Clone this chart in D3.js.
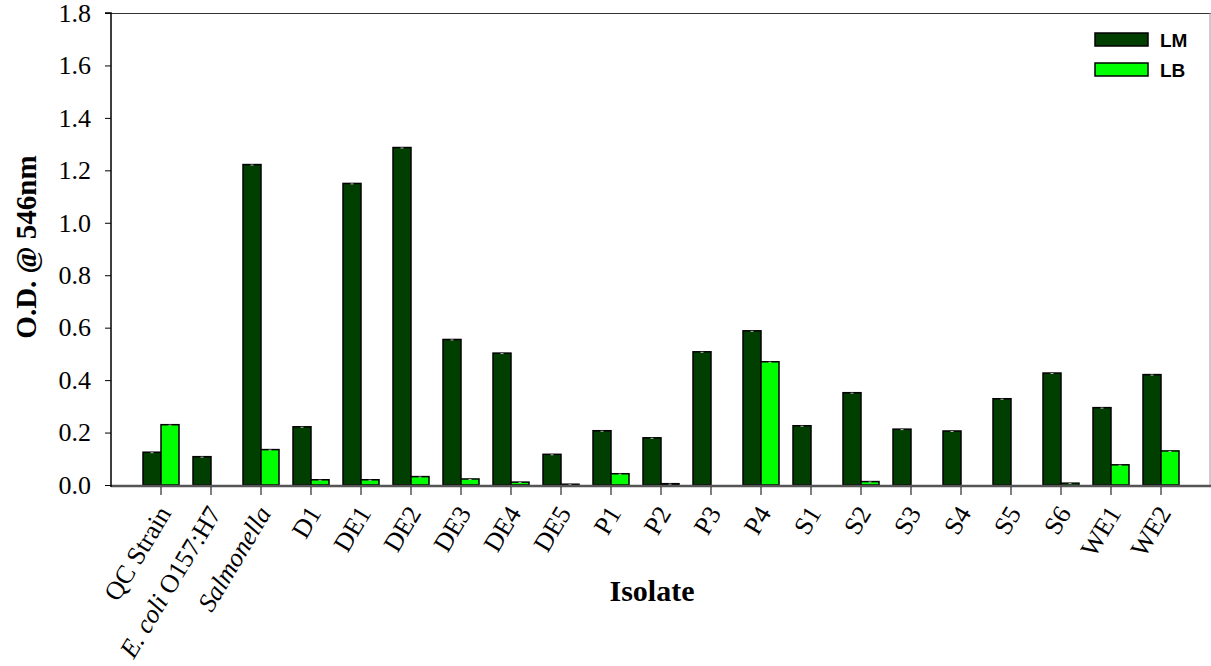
<!DOCTYPE html>
<html>
<head>
<meta charset="utf-8">
<script src="https://cdn.jsdelivr.net/npm/d3@7"></script>
<style>
  html, body { margin: 0; padding: 0; background: #fff; }
  svg { display: block; }
</style>
</head>
<body>
<svg id="chart" width="1211" height="666"></svg>
<script>
// Isolates on the x axis
const isolates = ["QC Strain", "E. coli O157:H7", "Salmonella", "D1", "DE1", "DE2", "DE3", "DE4", "DE5",
  "P1", "P2", "P3", "P4", "S1", "S2", "S3", "S4", "S5", "S6", "WE1", "WE2"];
// Optical density at 546nm in each medium
const lmValues = [0.125, 0.108, 1.222, 0.222, 1.150, 1.287, 0.555, 0.503, 0.117,
  0.207, 0.180, 0.508, 0.588, 0.226, 0.352, 0.213, 0.206, 0.329, 0.427, 0.295, 0.421];
const lbValues = [0.230, 0.000, 0.135, 0.020, 0.020, 0.032, 0.023, 0.011, 0.003,
  0.043, 0.005, 0.000, 0.470, 0.000, 0.013, 0.000, 0.000, 0.000, 0.007, 0.077, 0.130];
const seriesNames = ["LM", "LB"];
const yTicks = [0, 0.2, 0.4, 0.6, 0.8, 1.0, 1.2, 1.4, 1.6, 1.8];

const colors = { LM: "#003f00", LB: "#00ff00" };
const serif = "Liberation Serif, Times New Roman, serif";

const svg = d3.select("#chart");
const plotLeft = 111, plotRight = 1211, plotTop = 13, plotBottom = 485;

const x0 = d3.scaleBand().domain(isolates).range([plotLeft, plotRight]).paddingInner(0).paddingOuter(0.5);
const x1 = d3.scaleBand().domain(seriesNames).range([-18, 18]);
const y = d3.scaleLinear().domain([0, 1.8]).range([plotBottom, plotTop]);

const rows = isolates.map((name, i) => ({ name, LM: lmValues[i], LB: lbValues[i] }));

// frame: top and right edges
svg.append("line").attr("x1", plotLeft).attr("x2", plotRight).attr("y1", plotTop + 0.5).attr("y2", plotTop + 0.5)
  .attr("stroke", "#333").attr("stroke-width", 1);
svg.append("line").attr("x1", plotRight - 1).attr("x2", plotRight - 1).attr("y1", plotTop).attr("y2", plotBottom)
  .attr("stroke", "#999").attr("stroke-width", 1);

// bars
const groups = svg.append("g").selectAll("g").data(rows).join("g")
  .attr("transform", d => `translate(${x0(d.name) + x0.bandwidth() / 2},0)`);

groups.selectAll("rect").data(d => seriesNames.map(k => ({ key: k, value: d[k] })))
  .join("rect")
  .filter(d => d.value > 0)
  .attr("x", d => x1(d.key))
  .attr("y", d => y(d.value))
  .attr("width", x1.bandwidth())
  .attr("height", d => y(0) - y(d.value))
  .attr("fill", d => colors[d.key])
  .attr("stroke", "#000")
  .attr("stroke-width", 1.5);

// small error caps on bar tops
groups.selectAll("line.cap").data(d => seriesNames.map(k => ({ key: k, value: d[k] })))
  .join("line")
  .attr("class", "cap")
  .filter(d => d.value > 0)
  .attr("x1", d => x1(d.key) + x1.bandwidth() / 2 - 1.5)
  .attr("x2", d => x1(d.key) + x1.bandwidth() / 2 + 1.5)
  .attr("y1", d => y(d.value) + 0.5)
  .attr("y2", d => y(d.value) + 0.5)
  .attr("stroke", "#bbb")
  .attr("stroke-width", 1);

// baseline at zero
svg.append("line").attr("x1", plotLeft).attr("x2", plotRight).attr("y1", plotBottom + 1).attr("y2", plotBottom + 1)
  .attr("stroke", "#555").attr("stroke-width", 2.5);

// y axis
const yAxis = d3.axisLeft(y).tickValues(yTicks).tickFormat(d3.format(".1f")).tickSize(6).tickPadding(14);
const gy = svg.append("g").attr("transform", `translate(${plotLeft},0)`).call(yAxis);
gy.select(".domain").attr("stroke", "#000").attr("stroke-width", 1.5).attr("d", `M-6,${plotTop}H0V${plotBottom + 2}`);
gy.selectAll(".tick line").attr("stroke", "#000");
gy.selectAll(".tick text").attr("font-family", serif)
  .attr("font-size", 26).attr("fill", "#000");

// x axis ticks
const xAxis = d3.axisBottom(x0).tickSize(8).tickFormat("");
const gx = svg.append("g").attr("transform", `translate(0,${plotBottom + 2})`).call(xAxis);
gx.select(".domain").remove();
gx.selectAll(".tick line").attr("stroke", "#000").attr("stroke-width", 1);

// x tick labels, rotated
const labels = svg.append("g").selectAll("text").data(isolates).join("text")
  .attr("transform", d => `translate(${x0(d) + x0.bandwidth() / 2 + 11},${plotBottom + 28}) rotate(-59)`)
  .attr("text-anchor", "end")
  .attr("font-family", serif)
  .attr("font-size", 26)
  .attr("fill", "#000");
labels.each(function (d) {
  const t = d3.select(this);
  if (d === "E. coli O157:H7") {
    t.append("tspan").attr("font-style", "italic").text("E. coli");
    t.append("tspan").text(" O157:H7");
  } else if (d === "Salmonella") {
    t.append("tspan").attr("font-style", "italic").text("Salmonella");
  } else {
    t.text(d);
  }
});

// axis titles
svg.append("text")
  .attr("transform", "translate(36,247) rotate(-90)")
  .attr("text-anchor", "middle")
  .attr("font-family", serif)
  .attr("font-weight", "bold").attr("font-size", 29)
  .text("O.D. @ 546nm");

svg.append("text")
  .attr("x", 652).attr("y", 601)
  .attr("text-anchor", "middle")
  .attr("font-family", serif)
  .attr("font-weight", "bold").attr("font-size", 30)
  .text("Isolate");

// legend
const legend = svg.append("g").selectAll("g").data(seriesNames).join("g")
  .attr("transform", (d, i) => `translate(1095,${33 + i * 30})`);
legend.append("rect").attr("width", 53).attr("height", 13)
  .attr("fill", d => colors[d]).attr("stroke", "#000").attr("stroke-width", 1.5);
legend.append("text").attr("x", 65).attr("y", 14)
  .attr("font-family", "Liberation Sans, Arial, sans-serif")
  .attr("font-weight", "bold").attr("font-size", 19)
  .text(d => d);
</script>
</body>
</html>
